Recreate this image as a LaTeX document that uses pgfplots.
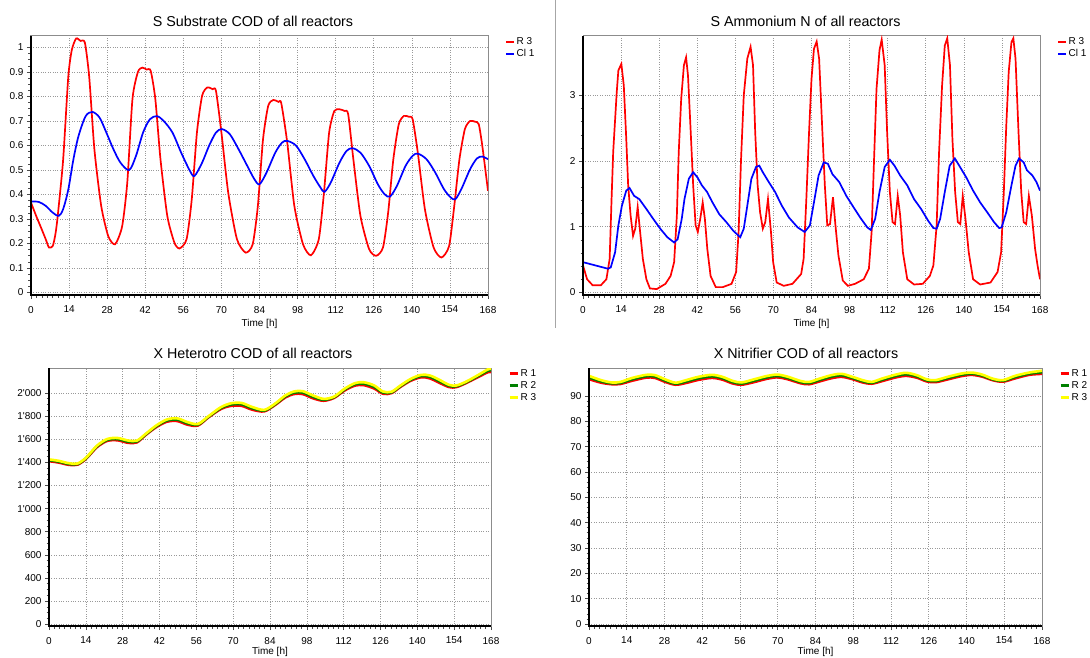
\documentclass[border=0pt]{standalone}
\usepackage{fontspec}
\setmainfont{Liberation Sans}
\usepackage{pgfplots}
\pgfplotsset{compat=1.18}
\definecolor{myred}{RGB}{255,0,0}
\definecolor{myblue}{RGB}{0,0,255}
\definecolor{mygreen}{RGB}{0,128,0}
\definecolor{myyellow}{RGB}{255,255,0}
\pgfplotsset{
  myaxis/.style={
    scale only axis,
    xmin=0, xmax=168, xtick={0,14,28,42,56,70,84,98,112,126,140,154,168},
    minor x tick num=6,
    grid=major,
    major grid style={black!40, dotted, line width=0.6pt},
    axis line style={black!45, line width=1pt},
    tick align=outside, tick pos=left,
    major tick length=4pt, minor tick length=2.5pt,
    every tick/.style={black!70, line width=0.6pt},
    ticklabel style={font=\fontsize{10}{12}\selectfont},
    xticklabel style={yshift=-3.5pt},
    /pgf/number format/assume math mode=true,
    scaled ticks=false,
    title style={font=\fontsize{14.3}{16}\selectfont, at={(0.5,1)}, anchor=center, yshift=9pt},
    xlabel={Time [h]},
    xlabel style={font=\fontsize{10}{12}\selectfont, at={(0.5,0)}, anchor=center, yshift=-29pt},
    legend style={at={(1,1)}, anchor=north west, xshift=17pt, yshift=0pt, draw=none, fill=none,
      font=\fontsize{10}{12}\selectfont, inner sep=0pt, row sep=0.5pt,
      nodes={inner sep=1.5pt}},
    legend cell align=left,
    after end axis/.code={\draw[black, line width=2.4pt] (rel axis cs:0,1) -- (rel axis cs:0,0) -- (rel axis cs:1,0);},
  },
  toplines/.style={legend image code/.code={\draw[##1, line width=2pt] (0pt,0pt) -- (8pt,0pt);}},
  botlines/.style={legend image code/.code={\draw[##1, line width=3pt] (0pt,0pt) -- (8pt,0pt);},
    xlabel style={yshift=3pt}},
}
\begin{document}
\begin{tikzpicture}
\useasboundingbox (0,0) rectangle (1090pt,657pt);
\draw[black!35, line width=1pt] (555pt,657pt) -- (555pt,329pt);

% ---------- Panel 1 ----------
\begin{axis}[myaxis, toplines, at={(31pt,362pt)}, anchor=south west, width=457pt, height=259pt,
  ymin=-0.01, ymax=1.047, ytick={0,0.1,0.2,0.3,0.4,0.5,0.6,0.7,0.8,0.9,1}, minor y tick num=3,
  title={S Substrate COD of all reactors}, title style={xshift=-6.5pt}]
\addplot[myred, line width=1.7pt, smooth, tension=0.4] coordinates {
(0,0.367) (2,0.31) (3.5,0.27) (5.4,0.218) (6.6,0.184) (8,0.19) (9,0.24) (9.8,0.31) (11.8,0.54) (13.7,0.88) (15,0.99) (16.6,1.037) (18.2,1.027) (19.8,1.02) (21.4,0.88) (23.3,0.585) (25.8,0.354) (28.4,0.23) (30.9,0.197) (33.5,0.27) (35.4,0.45) (37.3,0.79) (39.3,0.90) (40.9,0.918) (42.5,0.91) (44,0.905) (45.7,0.79) (47.6,0.544) (50.1,0.313) (52.7,0.204) (54.6,0.18) (57.2,0.218) (59.1,0.381) (61,0.653) (62.9,0.803) (64.8,0.837) (66.8,0.83) (68,0.823) (70,0.653) (72.5,0.408) (75.7,0.218) (78.9,0.163) (81.5,0.197) (83.4,0.354) (85.3,0.626) (87.2,0.762) (89.1,0.786) (91,0.778) (92,0.773) (94.2,0.612) (96.8,0.354) (100,0.197) (102.9,0.152) (105.8,0.218) (107.7,0.408) (109.6,0.653) (111.5,0.741) (113.4,0.748) (115.3,0.741) (116.6,0.728) (118.5,0.544) (121.1,0.313) (124.3,0.177) (126.9,0.15) (129.4,0.184) (131.3,0.327) (133.2,0.544) (135.2,0.687) (137.1,0.721) (139,0.717) (140.3,0.707) (142.2,0.571) (144.8,0.34) (148,0.184) (150.9,0.143) (153.7,0.19) (155.6,0.354) (157.5,0.544) (159.5,0.667) (161.4,0.70) (163.3,0.697) (164.6,0.687) (165.9,0.599) (168,0.415)
};
\addlegendentry{R 3}
\addplot[myblue, line width=1.7pt, smooth, tension=0.5] coordinates {
(0,0.371) (2.8,0.37) (5.4,0.354) (7.9,0.327) (10.2,0.313) (11.8,0.34) (13.7,0.42) (15.6,0.544) (17.5,0.64) (20.1,0.72) (22.6,0.737) (25.2,0.714) (27.7,0.653) (30.3,0.585) (32.9,0.53) (36.1,0.50) (38.6,0.558) (41.2,0.653) (43.7,0.707) (46.3,0.72) (48.8,0.70) (52,0.653) (55.2,0.571) (58.4,0.497) (60.1,0.476) (62.9,0.53) (65.5,0.6) (68,0.653) (70.2,0.667) (73.1,0.646) (76.3,0.585) (79.5,0.517) (82.1,0.463) (84,0.442) (86.6,0.49) (89.8,0.571) (92.3,0.612) (94.2,0.619) (97.4,0.6) (100.6,0.544) (103.8,0.476) (106.4,0.429) (107.9,0.411) (110.2,0.449) (113.4,0.53) (116,0.578) (118.2,0.589) (121.1,0.571) (124.3,0.517) (127.5,0.442) (130,0.401) (132,0.392) (134.5,0.435) (137.7,0.517) (140.3,0.558) (142.2,0.567) (145.4,0.544) (148.6,0.49) (151.8,0.422) (154.3,0.388) (156,0.381) (158.2,0.422) (161.4,0.503) (163.9,0.547) (165.9,0.555) (168,0.544)
};
\addlegendentry{Cl 1}
\end{axis}

% ---------- Panel 2 ----------
\begin{axis}[myaxis, toplines, at={(583pt,362pt)}, anchor=south west, width=457pt, height=259pt,
  ymin=-0.04, ymax=3.905, ytick={0,1,2,3}, minor y tick num=4,
  title={S Ammonium N of all reactors}, title style={xshift=-6pt}]
\addplot[myred, line width=1.7pt] coordinates {
(0,0.41) (1.5,0.2) (3.5,0.11) (6.6,0.11) (8.6,0.2) (9.8,0.51) (10.5,1.42) (11.1,2.14) (12.4,3.05) (13,3.38) (14.1,3.48) (15,3.15) (15.9,2.34) (16.6,1.63) (17.5,1.17) (18.4,0.86) (19.2,0.97) (20.1,1.30) (21,0.92) (22,0.51) (23.3,0.2) (24.6,0.06) (27.1,0.05) (30.3,0.13) (32.2,0.25) (33.5,0.46) (34.5,1.17) (35.2,2.14) (36.1,2.95) (37.1,3.46) (37.9,3.58) (38.6,3.30) (39.6,2.44) (40.5,1.63) (41.4,1.02) (42.2,0.92) (43.1,1.12) (44,1.37) (44.8,1.12) (45.7,0.66) (46.9,0.25) (48.8,0.08) (51.4,0.08) (54.6,0.13) (56.3,0.31) (57.2,0.92) (58.1,2.03) (59.1,3.0) (60.4,3.56) (61.6,3.74) (62.5,3.46) (63.3,2.44) (64.2,1.63) (65.1,1.22) (66.1,0.97) (67,1.07) (68,1.42) (69.1,0.92) (69.9,0.46) (71.2,0.15) (73.8,0.10) (77,0.13) (80.2,0.28) (81.1,0.51) (82.1,1.42) (83.1,2.44) (84,3.25) (84.9,3.71) (85.9,3.82) (86.8,3.56) (87.9,2.54) (88.9,1.63) (89.8,1.02) (90.8,1.04) (91.9,1.45) (92.8,1.02) (93.9,0.56) (95.5,0.18) (97.4,0.10) (100,0.13) (103.2,0.2) (105.1,0.36) (106.1,0.92) (107,2.03) (107.9,3.1) (109,3.69) (109.8,3.85) (110.9,3.46) (111.8,2.44) (112.8,1.53) (113.8,1.07) (114.7,1.04) (115.7,1.47) (116.6,1.17) (117.6,0.61) (119.2,0.2) (121.7,0.12) (124.9,0.13) (127.5,0.25) (128.8,0.41) (130,1.02) (130.9,2.14) (132,3.15) (133,3.76) (133.9,3.87) (134.9,3.46) (135.8,2.34) (136.8,1.53) (137.8,1.07) (138.7,1.04) (139.6,1.47) (140.6,1.12) (141.8,0.61) (143.4,0.2) (146,0.12) (149.8,0.15) (152.4,0.31) (153.7,0.61) (154.7,1.53) (155.6,2.54) (156.5,3.36) (157.5,3.81) (158.2,3.87) (159,3.56) (160.1,2.44) (161.1,1.53) (162,1.07) (162.9,1.04) (163.9,1.47) (165,1.17) (166.2,0.66) (167.1,0.41) (168,0.2)
};
\addlegendentry{R 3}
\addplot[myblue, line width=1.7pt] coordinates {
(0,0.46) (9.2,0.36) (10.2,0.38) (11.8,0.61) (13,1.02) (14.3,1.32) (15.9,1.55) (17.1,1.59) (18.8,1.47) (20.7,1.42) (23.3,1.27) (25.8,1.12) (28.4,0.97) (31,0.84) (33.5,0.76) (34.8,0.81) (36.3,1.12) (37.3,1.42) (38.9,1.73) (40.5,1.83) (42.1,1.75) (43.7,1.63) (45.6,1.53) (47.6,1.37) (50.1,1.19) (52.7,1.07) (55.2,0.94) (57.8,0.84) (59.1,0.97) (60.4,1.32) (61.9,1.73) (63.6,1.91) (64.8,1.93) (66.1,1.83) (68,1.70) (70.6,1.53) (73.1,1.32) (75.7,1.14) (78.9,0.99) (81.5,0.92) (83.4,1.02) (84.9,1.37) (86.6,1.78) (88.5,1.98) (90,1.96) (91.7,1.80) (94.2,1.68) (96.8,1.47) (99.4,1.30) (101.9,1.14) (104.5,0.99) (105.8,0.95) (107.4,1.12) (109,1.53) (110.9,1.91) (112.8,2.02) (114.5,1.93) (116.6,1.78) (119.2,1.63) (121.7,1.42) (124.3,1.27) (126.9,1.09) (128.8,0.98) (130,0.97) (131.3,1.12) (133,1.53) (134.8,1.93) (136.7,2.04) (138.6,1.91) (140.9,1.75) (143.4,1.55) (146,1.37) (148.6,1.22) (151.1,1.07) (153,0.98) (153.9,0.99) (155.6,1.22) (157.5,1.63) (159,1.93) (160.3,2.04) (162,1.98) (163.2,1.86) (165.2,1.78) (166.7,1.68) (168,1.55)
};
\addlegendentry{Cl 1}
\end{axis}

% ---------- Panel 3 ----------
\begin{axis}[myaxis, botlines, at={(49pt,31pt)}, anchor=south west, width=442pt, height=258pt,
  ymin=-15, ymax=2215, ytick={0,200,400,600,800,1000,1200,1400,1600,1800,2000}, minor y tick num=3,
  /pgf/number format/1000 sep={\textquotesingle},
  title={X Heterotro COD of all reactors}, title style={xshift=-17pt}]
\addplot[myred, line width=2.6pt, smooth, tension=0.5] coordinates {
(0,1410) (3.6,1398) (7.6,1378) (10.9,1380) (14.2,1433) (18.2,1530) (22.1,1585) (26.1,1590) (30.1,1568) (33.4,1572) (36.7,1635) (40.7,1703) (44.7,1750) (48.7,1757) (52.7,1725) (56.6,1718) (60.6,1788) (65.3,1860) (69.2,1888) (73.2,1888) (77.2,1855) (81.8,1840) (85.8,1893) (89.8,1960) (93.1,1990) (96.4,1990) (100.4,1953) (104.4,1932) (108.4,1957) (112.3,2020) (116.3,2063) (119.6,2067) (123.6,2038) (126.9,1993) (130.2,1998) (133.6,2052) (137.5,2105) (141.5,2135) (144.8,2125) (148.1,2090) (152.1,2050) (154.8,2050) (158.1,2080) (162.8,2133) (166.7,2178) (168,2180)
};
\addlegendentry{R 1}
\addplot[mygreen, line width=2.6pt, smooth, tension=0.5] coordinates {
(0,1418) (3.6,1406) (7.6,1385) (10.9,1385) (14.2,1438) (18.2,1537) (22.1,1593) (26.1,1600) (30.1,1578) (33.4,1580) (36.7,1640) (40.7,1710) (44.7,1760) (48.7,1769) (52.7,1736) (56.6,1725) (60.6,1793) (65.3,1868) (69.2,1899) (73.2,1901) (77.2,1867) (81.8,1847) (85.8,1899) (89.8,1969) (93.1,2001) (96.4,2003) (100.4,1965) (104.4,1940) (108.4,1963) (112.3,2028) (116.3,2074) (119.6,2080) (123.6,2051) (126.9,2003) (130.2,2004) (133.6,2058) (137.5,2113) (141.5,2146) (144.8,2138) (148.1,2103) (152.1,2060) (154.8,2057) (158.1,2086) (162.8,2142) (166.7,2190) (168,2194)
};
\addlegendentry{R 2}
\addplot[myyellow, line width=2.6pt, smooth, tension=0.5] coordinates {
(0,1425) (3.6,1413) (7.6,1392) (10.9,1390) (14.2,1442) (18.2,1543) (22.1,1601) (26.1,1610) (30.1,1588) (33.4,1587) (36.7,1645) (40.7,1717) (44.7,1769) (48.7,1780) (52.7,1747) (56.6,1731) (60.6,1798) (65.3,1876) (69.2,1910) (73.2,1913) (77.2,1878) (81.8,1853) (85.8,1905) (89.8,1977) (93.1,2012) (96.4,2015) (100.4,1977) (104.4,1948) (108.4,1968) (112.3,2035) (116.3,2084) (119.6,2092) (123.6,2064) (126.9,2012) (130.2,2010) (133.6,2064) (137.5,2121) (141.5,2156) (144.8,2150) (148.1,2116) (152.1,2069) (154.8,2064) (158.1,2092) (162.8,2150) (166.7,2202) (168,2208)
};
\addlegendentry{R 3}
\end{axis}

% ---------- Panel 4 ----------
\begin{axis}[myaxis, botlines, at={(589pt,31pt)}, anchor=south west, width=453pt, height=258pt,
  ymin=-0.8, ymax=101, ytick={0,10,20,30,40,50,60,70,80,90}, minor y tick num=4,
  title={X Nitrifier COD of all reactors}, title style={xshift=-9.5pt}]
\addplot[myred, line width=2.6pt, smooth, tension=0.5] coordinates {
(0,96.6) (4.5,95.2) (8.4,94.6) (11.6,94.7) (16.1,96.0) (21.2,97.2) (24.4,97.1) (28.3,95.5) (32.1,94.4) (36,95.1) (40.5,96.3) (45.6,97.1) (49.5,96.4) (53.3,94.9) (56.6,94.4) (61.1,95.4) (66.2,96.8) (70,97.3) (73.9,96.5) (78.4,95.0) (81.6,94.6) (85.5,95.7) (90,97.0) (93.8,97.5) (97.7,96.6) (101.5,95.3) (104.8,94.8) (108.6,95.8) (113.8,97.3) (117.6,97.9) (121.5,97.2) (125.3,95.7) (128.5,95.4) (133,96.5) (138.1,97.8) (142,98.3) (145.8,97.6) (149.7,96.2) (153.5,95.6) (158,96.9) (163.2,98.3) (168,98.7)
};
\addlegendentry{R 1}
\addplot[mygreen, line width=2.6pt, smooth, tension=0.5] coordinates {
(0,97.25) (4.5,95.7) (8.4,94.95) (11.6,95.1) (16.1,96.55) (21.2,97.75) (24.4,97.65) (28.3,96.0) (32.1,94.8) (36,95.65) (40.5,96.9) (45.6,97.7) (49.5,96.95) (53.3,95.4) (56.6,94.85) (61.1,95.95) (66.2,97.35) (70,97.85) (73.9,97.0) (78.4,95.45) (81.6,95.05) (85.5,96.25) (90,97.6) (93.8,98.1) (97.7,97.05) (101.5,95.75) (104.8,95.15) (108.6,96.3) (113.8,97.85) (117.6,98.5) (121.5,97.7) (125.3,96.1) (128.5,95.8) (133,97.0) (138.1,98.3) (142,98.75) (145.8,98.0) (149.7,96.5) (153.5,95.9) (158,97.4) (163.2,98.75) (168,99.3)
};
\addlegendentry{R 2}
\addplot[myyellow, line width=2.6pt, smooth, tension=0.5] coordinates {
(0,97.9) (4.5,96.2) (8.4,95.3) (11.6,95.5) (16.1,97.1) (21.2,98.3) (24.4,98.2) (28.3,96.5) (32.1,95.2) (36,96.2) (40.5,97.5) (45.6,98.3) (49.5,97.5) (53.3,95.9) (56.6,95.3) (61.1,96.5) (66.2,97.9) (70,98.4) (73.9,97.5) (78.4,95.9) (81.6,95.5) (85.5,96.8) (90,98.2) (93.8,98.7) (97.7,97.5) (101.5,96.2) (104.8,95.5) (108.6,96.8) (113.8,98.4) (117.6,99.1) (121.5,98.2) (125.3,96.5) (128.5,96.2) (133,97.5) (138.1,98.8) (142,99.2) (145.8,98.4) (149.7,96.8) (153.5,96.2) (158,97.9) (163.2,99.2) (168,99.9)
};
\addlegendentry{R 3}
\end{axis}
\end{tikzpicture}
\end{document}
